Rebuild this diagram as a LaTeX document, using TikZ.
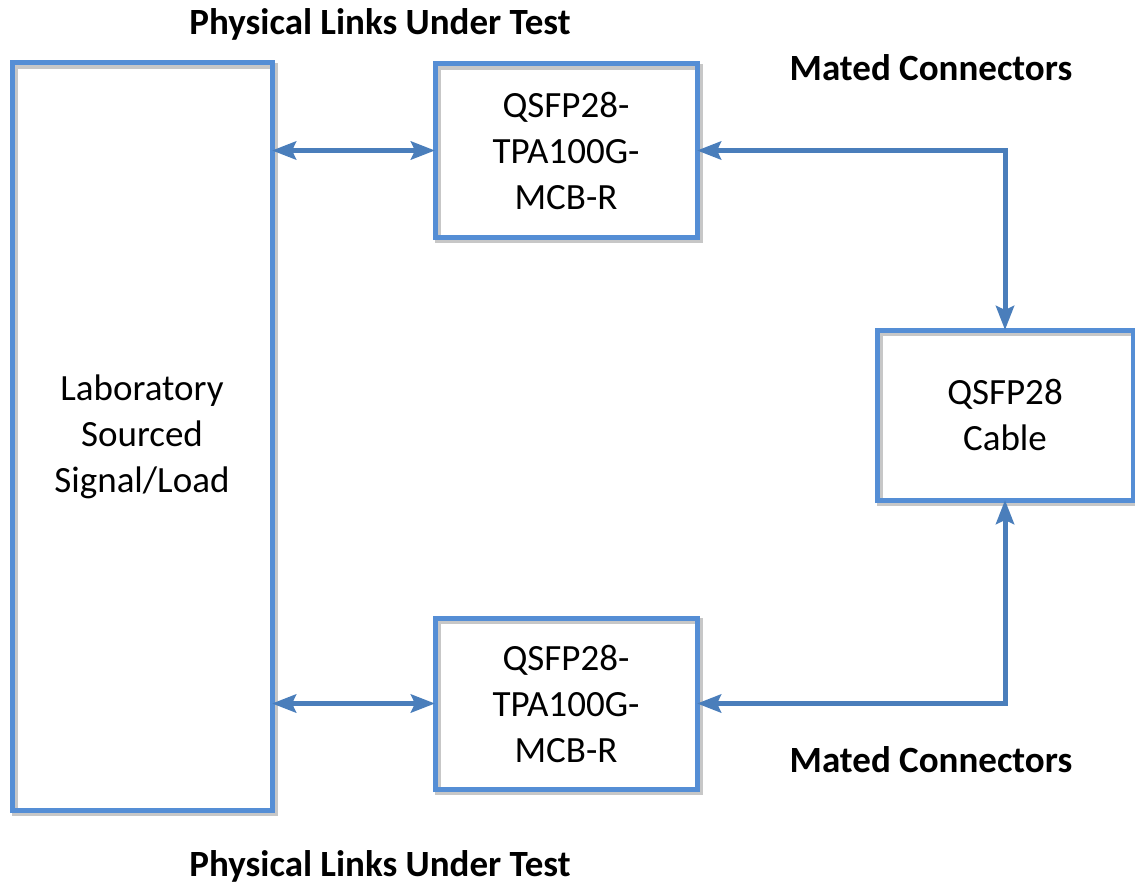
\documentclass[tikz,border=0pt]{standalone}
\usepackage{fontspec}
\setmainfont{Carlito}
\usetikzlibrary{arrows.meta}

\definecolor{boxblue}{RGB}{85,142,213}
\definecolor{arrowblue}{RGB}{74,126,187}

\tikzset{
    unitbox/.style={draw=boxblue, line width=5pt, rectangle, align=center,
        inner sep=0pt, outer sep=0pt,
        font=\fontsize{37}{46}\selectfont,
        preaction={draw=black!22, line width=6pt,
            transform canvas={xshift=3pt,yshift=-3pt}}},
    linkarrow/.style={draw=arrowblue, line width=5pt,
        {Stealth[length=24pt,width=18pt,inset=4pt]}-{Stealth[length=24pt,width=18pt,inset=4pt]}},
    caption/.style={font=\fontsize{37}{44}\selectfont\bfseries}
}

\begin{document}
\begin{tikzpicture}[x=1pt,y=-1pt]%
    \useasboundingbox (0,0) rectangle (1135,888);

    % boxes
    \node[unitbox, minimum width=260pt, minimum height=747pt] (lab) at (142,436.5)
        {Laboratory\\Sourced\\Signal/Load};
    \node[unitbox, minimum width=262pt, minimum height=173pt] (tq) at (566,150.5)
        {QSFP28-\\TPA100G-\\MCB-R};
    \node[unitbox, minimum width=262pt, minimum height=171pt] (bq) at (566,703.5)
        {QSFP28-\\TPA100G-\\MCB-R};
    \node[unitbox, minimum width=256pt, minimum height=170pt] (cable) at (1005,415)
        {QSFP28\\Cable};

    % captions
    \node[caption] (toplink) at (380,24) {Physical Links Under Test};
    \node[caption] (botlink) at (380,866) {Physical Links Under Test};
    \node[caption] (topmate) at (931,68) {Mated Connectors};
    \node[caption] (botmate) at (931,760) {Mated Connectors};

    % links
    \draw[linkarrow] (lab.east |- tq.west) -- (tq.west);
    \draw[linkarrow] (lab.east |- bq.west) -- (bq.west);
    \draw[linkarrow] (tq.east) -| (cable.north);
    \draw[linkarrow] (bq.east) -| (cable.south);
\end{tikzpicture}
\end{document}
